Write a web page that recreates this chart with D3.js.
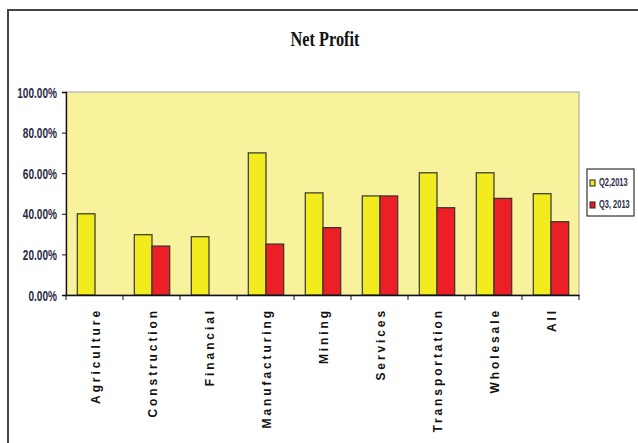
<!DOCTYPE html>
<html><head><meta charset="utf-8">
<script src="https://cdn.jsdelivr.net/npm/d3@7"></script>
<style>body{margin:0;background:#fff}svg{display:block}</style>
</head><body>
<script>
const categories = ["Agriculture","Construction","Financial","Manufacturing","Mining","Services","Transportation","Wholesale","All"];
const seriesNames = ["Q2,2013","Q3, 2013"];
const q2 = [40.0, 29.7, 28.7, 70.0, 50.3, 48.8, 60.2, 60.2, 49.9];
const q3 = [null, 24.1, null, 25.1, 33.2, 48.8, 43.0, 47.6, 36.1];
const yTicks = [0,20,40,60,80,100];
const colors = ["#f2ec1e","#ec1f27"];

const W=638,H=443;
const svg=d3.select("body").append("svg").attr("width",W).attr("height",H);
svg.append("rect").attr("x",8).attr("y",10).attr("width",700).attr("height",500)
  .attr("fill","#fff").attr("stroke","#444").attr("stroke-width",2);

const m={l:66,t:92,r:579,b:295};
const x=d3.scaleBand().domain(categories).range([m.l,m.r]);
const y=d3.scaleLinear().domain([0,100]).range([m.b,m.t]);

svg.append("rect").attr("x",m.l).attr("y",m.t).attr("width",m.r-m.l).attr("height",m.b-m.t)
  .attr("fill","#f8f29c").attr("stroke","#a0a0a0").attr("stroke-width",1);

svg.append("text").attr("x",325).attr("y",46).attr("text-anchor","middle")
  .attr("font-family","Liberation Serif, DejaVu Serif").attr("font-weight","bold")
  .attr("font-size",22).attr("fill","#111")
  .attr("textLength",69).attr("lengthAdjust","spacingAndGlyphs").text("Net Profit");

const barW=17.7, off=11.3;
const data=[q2,q3];
data.forEach((s,si)=>{
  svg.append("g").selectAll("rect").data(categories.map((c,i)=>({c,v:s[i]})).filter(d=>d.v!=null))
    .join("rect")
    .attr("x",d=>x(d.c)+off+si*barW).attr("width",barW)
    .attr("y",d=>y(d.v)).attr("height",d=>y(0)-y(d.v))
    .attr("fill",colors[si]).attr("stroke","#333").attr("stroke-width",1.2);
});

function squeeze(sel, f){
  sel.each(function(){
    const L=this.getComputedTextLength();
    d3.select(this).attr("textLength",L*f).attr("lengthAdjust","spacingAndGlyphs");
  });
}

const ya=svg.append("g").attr("transform",`translate(${m.l},0)`)
  .call(d3.axisLeft(y).tickValues(yTicks).tickSize(4).tickPadding(5).tickFormat(d=>d3.format(".2f")(d)+"%"));
ya.select(".domain").attr("stroke","#111").attr("stroke-width",1.3);
ya.selectAll(".tick line").attr("stroke","#111");
ya.selectAll("text").attr("font-family","Liberation Sans, Arial")
  .attr("font-size",14).attr("fill","#2a2a44").attr("font-weight","bold").attr("dy","0.36em");
squeeze(ya.selectAll("text"), 0.72);

const xa=svg.append("g").attr("transform",`translate(0,${m.b})`)
  .call(d3.axisBottom(x).tickSize(0).tickFormat(""));
xa.select(".domain").attr("stroke","#111").attr("stroke-width",1.3);
svg.append("g").selectAll("line").data(d3.range(categories.length+1)).join("line")
  .attr("x1",i=>m.l+i*x.step()).attr("x2",i=>m.l+i*x.step())
  .attr("y1",m.b).attr("y2",m.b+5).attr("stroke","#111");

svg.append("g").selectAll("text").data(categories).join("text")
  .attr("transform",d=>`translate(${x(d)+x.bandwidth()/2+5.5},${m.b+13}) rotate(-90)`)
  .attr("text-anchor","end")
  .attr("font-family","Liberation Sans, Arial").attr("font-weight","bold")
  .attr("font-size",12).attr("letter-spacing","2.9px").attr("fill","#111")
  .text(d=>d);

const lg=svg.append("g");
lg.append("rect").attr("x",587).attr("y",169).attr("width",47).attr("height",47)
  .attr("fill","#fff").attr("stroke","#333").attr("stroke-width",1.2);
seriesNames.forEach((n,i)=>{
  const yy=186+i*22;
  lg.append("rect").attr("x",590).attr("y",yy-6).attr("width",5).attr("height",6)
    .attr("fill",colors[i]).attr("stroke","#222");
  lg.append("text").attr("transform",`translate(599,${yy}) scale(0.68,1)`)
    .attr("font-family","Liberation Sans, Arial")
    .attr("font-weight","bold").attr("font-size",11).attr("fill","#2a2a44").text(n);
});
</script>
</body></html>
